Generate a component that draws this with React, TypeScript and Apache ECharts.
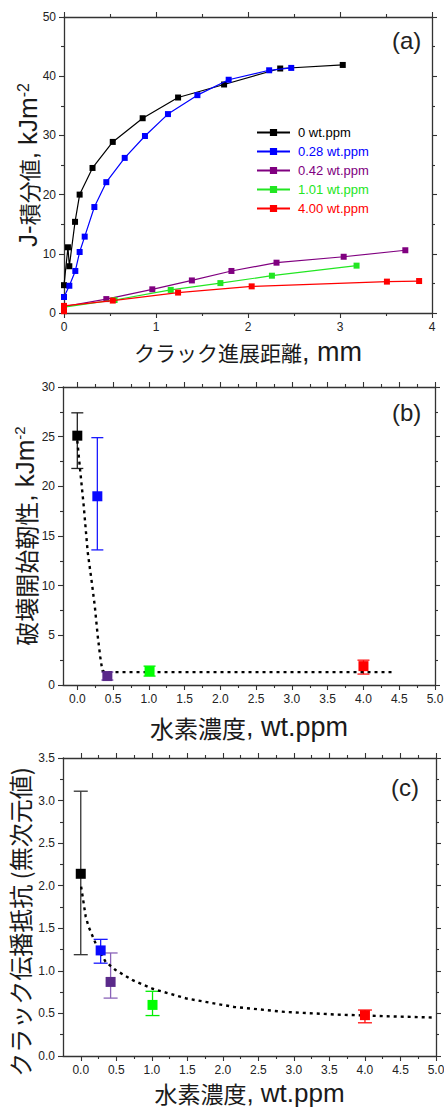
import React, { useEffect, useRef } from "react";
import * as echarts from "echarts";

const LATIN = "'Liberation Sans', Arial, Helvetica, sans-serif";
const CJK = "'Noto Sans CJK JP', 'Liberation Sans', sans-serif";

// ---------- Panel (a): J-integral vs crack extension ----------
const seriesNamesA = ["0 wt.ppm", "0.28 wt.ppm", "0.42 wt.ppm", "1.01 wt.ppm", "4.00 wt.ppm"];
const colorsA = ["#000000", "#0000ff", "#800080", "#22e622", "#ff0000"];

const crack0 = [0, 0.043, 0.058, 0.12, 0.17, 0.31, 0.53, 0.855, 1.24, 1.74, 2.35, 3.03];
const j0 = [4.7, 11.1, 7.9, 15.4, 20.0, 24.5, 28.9, 32.9, 36.4, 38.6, 41.3, 41.9];
const crack028 = [0, 0.058, 0.123, 0.17, 0.225, 0.33, 0.46, 0.66, 0.88, 1.13, 1.45, 1.79, 2.23, 2.47];
const j028 = [2.7, 4.6, 7.1, 10.3, 12.9, 17.9, 22.1, 26.2, 29.9, 33.6, 36.8, 39.4, 41.0, 41.4];
const crack042 = [0, 0.46, 0.96, 1.39, 1.82, 2.31, 3.04, 3.71];
const j042 = [1.1, 2.35, 4.0, 5.5, 7.1, 8.5, 9.5, 10.6];
const crack101 = [0, 0.55, 1.16, 1.7, 2.26, 3.18];
const j101 = [1.0, 2.2, 3.9, 5.05, 6.3, 8.0];
const crack400 = [0, 0, 0.53, 1.24, 2.04, 3.51, 3.86];
const j400 = [0.3, 1.2, 2.1, 3.45, 4.5, 5.3, 5.4];

const xTicksA = [0, 1, 2, 3, 4];

// ---------- Panel (b): initiation toughness vs hydrogen ----------
const hydrogen = [0, 0.28, 0.42, 1.01, 4.0];
const markerColors = ["#000000", "#0a0aff", "#5a2a8a", "#00ff00", "#ff0000"];
const errColorsB = ["#222222", "#1a1aff", "#7b4fb0", "#00ee00", "#ff1010"];
const initToughness = [25.1, 19.0, 0.9, 1.4, 1.9];
const initLow = [21.8, 13.6, 0.5, 0.9, 1.1];
const initHigh = [27.4, 24.9, 1.3, 1.9, 2.5];
const fitBX = [0, 0.04, 0.09, 0.145, 0.205, 0.245, 0.286, 0.32, 0.35, 0.38, 4.42];
const fitBY = [24.6, 21.6, 18.0, 13.4, 10.2, 7.9, 4.9, 2.85, 1.45, 1.3, 1.3];

// ---------- Panel (c): propagation resistance vs hydrogen ----------
const errColorsC = ["#333333", "#1a1aff", "#8a63b8", "#00ee00", "#ff1010"];
const resistance = [2.14, 1.24, 0.87, 0.6, 0.48];
const resLow = [1.19, 1.09, 0.68, 0.475, 0.39];
const resHigh = [3.11, 1.37, 1.21, 0.76, 0.54];
const fitCX = [0.005, 0.07, 0.11, 0.21, 0.35, 0.49, 0.73, 1.01, 1.49, 2.16, 2.87, 3.59, 4.3, 4.97];
const fitCY = [1.99, 1.635, 1.52, 1.32, 1.106, 1.01, 0.89, 0.79, 0.675, 0.576, 0.518, 0.487, 0.467, 0.452];

const xTicksH = [0, 0.5, 1, 1.5, 2, 2.5, 3, 3.5, 4, 4.5, 5];
const xMinorH = [0.25, 0.75, 1.25, 1.75, 2.25, 2.75, 3.25, 3.75, 4.25, 4.75];

const zip = (xs: number[], ys: number[]) => xs.map((x, i) => [x, ys[i]]);

const AXIS_COLOR = "#333333";
const LABEL_COLOR = "#222222";

function baseAxis(extra: any) {
  return {
    type: "value",
    nameMoveOverlap: false,
    axisLine: { show: true, onZero: false, lineStyle: { color: AXIS_COLOR, width: 1.3 } },
    axisTick: { show: true, inside: false, length: 5, lineStyle: { color: AXIS_COLOR, width: 1.1 } },
    minorTick: { show: false },
    splitLine: { show: false },
    axisLabel: { show: false, color: LABEL_COLOR, fontSize: 12, fontFamily: LATIN, margin: 8 },
    ...extra,
  };
}

function minorAxis(grid: number, position: string, min: number, max: number) {
  return {
    type: "value",
    gridIndex: grid,
    position,
    min,
    max,
    axisLine: { show: false, onZero: false },
    axisTick: {
      show: true,
      inside: false,
      length: 3,
      customValues: xMinorH,
      lineStyle: { color: AXIS_COLOR, width: 1.1 },
    },
    axisLabel: { show: false },
    splitLine: { show: false },
  };
}

function errorBarSeries(xi: number, yi: number, lows: number[], highs: number[], colors: string[], hw: number) {
  return {
    type: "custom",
    xAxisIndex: xi,
    yAxisIndex: yi,
    data: hydrogen.map((h, i) => [h, lows[i], highs[i]]),
    encode: { x: 0, y: [1, 2] },
    z: 2,
    renderItem: (params: any, api: any) => {
      const x = api.value(0);
      const lo = api.value(1);
      const hi = api.value(2);
      const pLo = api.coord([x, lo]);
      const pHi = api.coord([x, hi]);
      const style = { stroke: colors[params.dataIndex], lineWidth: 1.3 };
      return {
        type: "group",
        children: [
          { type: "line", shape: { x1: pLo[0], y1: pLo[1], x2: pHi[0], y2: pHi[1] }, style },
          { type: "line", shape: { x1: pLo[0] - hw, y1: pLo[1], x2: pLo[0] + hw, y2: pLo[1] }, style },
          { type: "line", shape: { x1: pHi[0] - hw, y1: pHi[1], x2: pHi[0] + hw, y2: pHi[1] }, style },
        ],
      };
    },
  };
}

function markerSeries(xi: number, yi: number, vals: number[], size: number) {
  return {
    type: "scatter",
    xAxisIndex: xi,
    yAxisIndex: yi,
    symbol: "rect",
    symbolSize: size,
    z: 5,
    itemStyle: { opacity: 1 },
    emphasis: { disabled: true },
    data: hydrogen.map((h, i) => ({ value: [h, vals[i]], itemStyle: { color: markerColors[i], opacity: 1 } })),
  };
}

function fitSeries(xi: number, yi: number, xs: number[], ys: number[]) {
  return {
    type: "line",
    xAxisIndex: xi,
    yAxisIndex: yi,
    symbol: "none",
    z: 4,
    data: zip(xs, ys),
    lineStyle: { color: "#000000", width: 2.4, type: [3, 4] },
  };
}

const titleRich = (cjk: number, lat: number, sup: number, lh: number) => ({
  c: { fontFamily: CJK, fontSize: cjk, lineHeight: lh, verticalAlign: "middle", color: "#1a1a1a" },
  l: { fontFamily: LATIN, fontSize: lat, lineHeight: lh, verticalAlign: "middle", color: "#1a1a1a" },
  s: { fontFamily: LATIN, fontSize: sup, lineHeight: 14, verticalAlign: "top", color: "#1a1a1a" },
});

export default function App() {
  const ref = useRef<HTMLDivElement>(null);

  useEffect(() => {
    if (!ref.current) return;
    const chart = echarts.init(ref.current, undefined, { renderer: "svg" });

    const seriesA = [
      zip(crack0, j0),
      zip(crack028, j028),
      zip(crack042, j042),
      zip(crack101, j101),
      zip(crack400, j400),
    ].map((d, i) => ({
      name: seriesNamesA[i],
      type: "line",
      xAxisIndex: 0,
      yAxisIndex: 0,
      data: d,
      symbol: "rect",
      symbolSize: 6,
      color: colorsA[i],
      itemStyle: { color: colorsA[i] },
      lineStyle: { color: colorsA[i], width: 1.2 },
      z: 2 + i,
    }));

    const minorA = { show: true, splitNumber: 2, length: 3, lineStyle: { color: AXIS_COLOR, width: 1.1 } };
    const yLabel = {
      show: true,
      color: LABEL_COLOR,
      fontSize: 12,
      fontFamily: LATIN,
      margin: 8,
      showMaxLabel: true,
      showMinLabel: true,
      hideOverlap: false,
    };

    const option: any = {
      animation: false,
      backgroundColor: "#ffffff",
      grid: [
        { left: 64, top: 17, width: 368, height: 296, outerBoundsMode: "none", containLabel: false },
        { left: 63, top: 387, width: 372, height: 298, outerBoundsMode: "none", containLabel: false },
        { left: 63, top: 758, width: 373, height: 298, outerBoundsMode: "none", containLabel: false },
      ],
      legend: {
        data: seriesNamesA.map((n, i) => ({ name: n, textStyle: { color: colorsA[i] } })),
        orient: "vertical",
        left: 251,
        top: 121,
        itemWidth: 33,
        itemHeight: 9,
        itemGap: 6,
        selectedMode: false,
        textStyle: { fontSize: 13, fontFamily: LATIN, lineHeight: 12, padding: [0, 0, 0, 3] },
      },
      xAxis: [
        // (a)
        baseAxis({
          gridIndex: 0,
          position: "bottom",
          min: 0,
          max: 4,
          interval: 1,
          minorTick: minorA,
          axisLabel: {
            show: true,
            color: LABEL_COLOR,
            fontSize: 12,
            fontFamily: LATIN,
            margin: 8,
            customValues: xTicksA,
          },
          name: "{c|クラック進展距離}{l|, mm}",
          nameLocation: "middle",
          nameGap: 26,
          nameTextStyle: { rich: titleRich(21, 27, 14, 26) },
        }),
        baseAxis({ gridIndex: 0, position: "top", min: 0, max: 4, interval: 1, minorTick: minorA }),
        // (b)
        baseAxis({
          gridIndex: 1,
          position: "bottom",
          min: -0.2,
          max: 5,
          axisTick: { show: true, length: 5, customValues: xTicksH, lineStyle: { color: AXIS_COLOR, width: 1.1 } },
          axisLabel: {
            show: true,
            color: LABEL_COLOR,
            fontSize: 12,
            fontFamily: LATIN,
            margin: 8,
            customValues: xTicksH,
            formatter: (v: number) => v.toFixed(1),
          },
          name: "{c|水素濃度}{l|, wt.ppm}",
          nameLocation: "middle",
          nameGap: 29,
          nameTextStyle: { rich: titleRich(24, 27, 14, 26) },
        }),
        baseAxis({
          gridIndex: 1,
          position: "top",
          min: -0.2,
          max: 5,
          axisTick: { show: true, length: 5, customValues: xTicksH, lineStyle: { color: AXIS_COLOR, width: 1.1 } },
        }),
        minorAxis(1, "bottom", -0.2, 5),
        minorAxis(1, "top", -0.2, 5),
        // (c)
        baseAxis({
          gridIndex: 2,
          position: "bottom",
          min: -0.25,
          max: 5,
          axisTick: { show: true, length: 5, customValues: xTicksH, lineStyle: { color: AXIS_COLOR, width: 1.1 } },
          axisLabel: {
            show: true,
            color: LABEL_COLOR,
            fontSize: 12,
            fontFamily: LATIN,
            margin: 8,
            customValues: xTicksH,
            formatter: (v: number) => v.toFixed(1),
          },
          name: "{c|水素濃度}{l|, wt.ppm}",
          nameLocation: "middle",
          nameGap: 25,
          nameTextStyle: { rich: titleRich(23, 26, 14, 24) },
        }),
        baseAxis({
          gridIndex: 2,
          position: "top",
          min: -0.25,
          max: 5,
          axisTick: { show: true, length: 5, customValues: xTicksH, lineStyle: { color: AXIS_COLOR, width: 1.1 } },
        }),
        minorAxis(2, "bottom", -0.25, 5),
        minorAxis(2, "top", -0.25, 5),
      ],
      yAxis: [
        // (a)
        baseAxis({
          gridIndex: 0,
          position: "left",
          min: 0,
          max: 50,
          interval: 10,
          minorTick: minorA,
          axisLabel: yLabel,
          name: "{l|J-}{c|積分値}{l|, kJm}{s|-2}",
          nameLocation: "middle",
          nameRotate: 90,
          nameGap: 23,
          nameTextStyle: { rich: titleRich(22, 26, 16, 26) },
        }),
        baseAxis({ gridIndex: 0, position: "right", min: 0, max: 50, interval: 10, minorTick: minorA }),
        // (b)
        baseAxis({
          gridIndex: 1,
          position: "left",
          min: 0,
          max: 30,
          interval: 5,
          minorTick: minorA,
          axisLabel: yLabel,
          name: "{c|破壊開始靭性}{l|, kJm}{s|-2}",
          nameLocation: "middle",
          nameRotate: 90,
          nameGap: 25,
          nameTextStyle: { rich: titleRich(24, 26, 15, 26) },
        }),
        baseAxis({ gridIndex: 1, position: "right", min: 0, max: 30, interval: 5, minorTick: minorA }),
        // (c)
        baseAxis({
          gridIndex: 2,
          position: "left",
          min: 0,
          max: 3.5,
          interval: 0.5,
          minorTick: minorA,
          axisLabel: { ...yLabel, formatter: (v: number) => v.toFixed(1) },
          name: "{c|クラック伝播抵抗 (無次元値)}",
          nameLocation: "middle",
          nameRotate: 90,
          nameGap: 31,
          nameTextStyle: { rich: titleRich(24, 24, 14, 25), padding: [0, 30, 0, 0] },
        }),
        baseAxis({ gridIndex: 2, position: "right", min: 0, max: 3.5, interval: 0.5, minorTick: minorA }),
      ],
      graphic: [
        { type: "text", left: 392, top: 28, style: { text: "(a)", fontSize: 24, fontFamily: LATIN, fill: "#222" } },
        { type: "text", left: 392, top: 400, style: { text: "(b)", fontSize: 24, fontFamily: LATIN, fill: "#222" } },
        { type: "text", left: 391, top: 775, style: { text: "(c)", fontSize: 24, fontFamily: LATIN, fill: "#222" } },
      ],
      series: [
        ...seriesA,
        errorBarSeries(2, 2, initLow, initHigh, errColorsB, 6),
        fitSeries(2, 2, fitBX, fitBY),
        markerSeries(2, 2, initToughness, 10),
        errorBarSeries(6, 4, resLow, resHigh, errColorsC, 7),
        fitSeries(6, 4, fitCX, fitCY),
        markerSeries(6, 4, resistance, 10),
      ],
    };

    chart.setOption(option);
    return () => chart.dispose();
  }, []);

  return (
    <div
      ref={ref}
      style={{ position: "absolute", left: 0, top: 0, width: 444, height: 1110, background: "#fff" }}
    />
  );
}
